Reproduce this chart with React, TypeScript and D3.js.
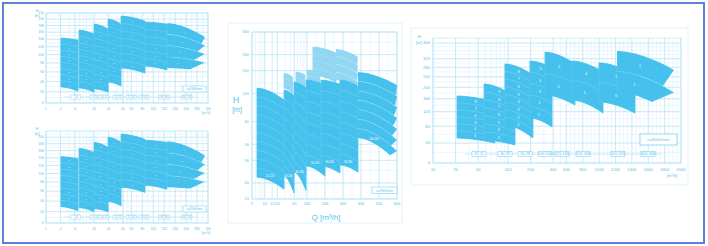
import React from "react";
import * as d3 from "d3";

const BLUE = "#46c1ee";
const PALE = "#92d6f2";
const GRID = "#d6eff9";
const GRID_STRONG = "#b4e3f6";
const INK = "#52c1ec";
const FRAME = "#dcf1fa";
const EDGE = "#5c81d7";
const FONT = "'Liberation Sans', Arial, sans-serif";

// ---------- axis ticks ----------
const compactQTicks = [1, 2, 4, 10, 20, 40, 60, 80, 100, 120, 140, 160, 180, 200];
const compactHTicks50 = [0, 20, 40, 60, 80, 100, 120, 140, 160, 180, 200, 220];
const compactHTicks60 = [0, 20, 40, 60, 80, 100, 120, 140, 160, 180, 200];
const midQTicks = [5, 10, 15, 20, 50, 100, 200, 300, 400, 500, 600];
const midHTicks = [15, 20, 30, 40, 60, 100, 150, 200, 300];
const largeQTicks = [10, 20, 40, 100, 200, 400, 600, 800, 1000, 1200, 1400, 1600, 1800, 2000];
const largeHTicks = [0, 40, 80, 120, 160, 200, 240, 280, 320, 400];

// ---------- pump regions ----------
// [qStart, qEnd, qEndLowest, hTopStart, hTopEnd, hLowStart, hLowEnd, bands, topStage]
const compactSeries = [
  [2.05, 4.64, 4.6, 143, 137.5, 29.1, 21.5, 8, 8],
  [4.87, 10, 9.8, 166, 154.3, 27.2, 19.6, 9, 9],
  [10, 19.6, 19, 184, 168.9, 25.3, 19.6, 9, 9],
  [19.6, 36.5, 35, 199.7, 184, 38.9, 31, 8, 8],
  [36.5, 84.9, 82, 209.4, 193.4, 68.4, 57.5, 7, 7],
  [84.9, 125, 122, 190.2, 184, 72.9, 64, 6, 6],
  [125, 194.5, 167, 187.1, 145.9, 68.4, 61.8, 4, 4],
];

const midSeriesPale = [
  [28.6, 45.6, 45, 142.7, 133.5, 109.5, 100, 3, 3],
  [54.9, 89.4, 88, 146.1, 138.5, 117.4, 105.8, 2, 2],
  [100, 172, 170, 151.5, 142.7, 122, 117.4, 2, 2],
  [133, 261, 255, 229, 205.8, 138.5, 122, 4, 4],
  [261, 383, 375, 221.1, 191.5, 126.5, 105.8, 4, 4],
];

const midSeriesMain = [
  [6.57, 28.6, 28, 109.5, 88.4, 22.2, 17.9, 10, 10],
  [28.6, 49.3, 48, 105.8, 95.3, 22.6, 16.7, 9, 9],
  [49.3, 94.7, 92, 122, 109.5, 24.3, 17.5, 9, 9],
  [94.7, 200, 195, 126.5, 115.6, 27.1, 22.6, 8, 8],
  [178, 283, 275, 126.5, 117.4, 27.1, 23.9, 8, 8],
  [283, 383, 375, 126.5, 113.6, 27.6, 24.3, 8, 8],
  [383, 600, 561, 146.1, 115.6, 44.7, 29.1, 7, 7],
];
const midModels = ["25-125", "32-160", "40-160", "50-200", "65-200", "80-250", "100-250"];

const largeSeries = [
  [20.9, 67, 63.1, 169.3, 149.6, 51.4, 40.2, 6, 8],
  [47.9, 124, 117, 212, 166, 46.9, 35.8, 7, 9],
  [91, 215, 207, 295, 247.6, 83, 51.4, 8, 8],
  [196, 386, 342, 309, 277, 102, 78, 5, 5],
  [311, 705, 668, 352, 295, 173, 140, 2, 4],
  [668, 1047, 970, 309, 260, 156, 116, 2, 4],
  [998, 1438, 1413, 300, 248, 150, 116, 2, 6],
  [1218, 1914, 1642, 358, 269, 183, 110.4, 2, 1],
];

const compactModels = ["2-4", "4-10", "10-15", "15-25", "25-40", "45-65", "65-90", "90-150"];
const compactModelQ = [4.2, 10.5, 16.1, 31.6, 59, 83, 119.6, 161.6];
const largeModels = ["32-11", "40-29", "50-78", "100-100", "125-160", "150-200", "200-250", "300-300"];
const largeModelQ = [41, 91.2, 169, 311, 523, 803, 1230, 1597];

type Scale = (v: number) => number;

function hybrid(a: number, b: number, c: number, r0: number, rb: number, r1: number): Scale {
  const lg = d3.scaleLog().domain([a, b]).range([r0, rb]);
  const ln = d3.scaleLinear().domain([b, c]).range([rb, r1]);
  return (v: number) => (v <= b ? lg(v) : ln(v));
}

function logGrid(a: number, b: number) {
  const out: number[] = [];
  for (let e = Math.floor(Math.log10(a)); Math.pow(10, e) <= b; e++) {
    for (let m = 1; m < 10; m++) {
      const v = m * Math.pow(10, e);
      if (v >= a - 1e-9 && v <= b + 1e-9) out.push(v);
    }
  }
  return out;
}

// Each region is split into stage bands; the lower curves stop a little short
// of the upper ones, which gives the stepped right edge of each region.
function bandsOf(row: number[], xs: Scale, ys: Scale) {
  const [q0, q1, q1b, t0, t1, b0, b1, n, top] = row;
  const X0 = xs(q0), X1 = xs(q1), XL = xs(q1b);
  const T0 = ys(t0), T1 = ys(t1), B0 = ys(b0), B1 = ys(b1);
  const shape = (s: number) => Math.pow(Math.min(1, Math.max(0, s)), 1.7);
  const topAt = (x: number) => T0 + (T1 - T0) * shape((x - X0) / (X1 - X0));
  const lowAt = (x: number) => B0 + (B1 - B0) * shape((x - X0) / (X1 - X0));
  const curve = (k: number, x: number) => topAt(x) + (lowAt(x) - topAt(x)) * (k / n);
  const line = d3.line();
  const N = 18;
  const sample = (k: number, xa: number, xb: number) => {
    const pts: [number, number][] = [];
    for (let i = 0; i <= N; i++) {
      const x = xa + ((xb - xa) * i) / N;
      pts.push([x, curve(k, x)]);
    }
    return pts;
  };
  const bands: { d: string; lx: number; ly: number; stage: number }[] = [];
  const seps: string[] = [];
  for (let k = 0; k < n; k++) {
    const xe = Math.min(X1 + (XL - X1) * ((k + 1) / n), X1 - 0.8);
    const pts = [...sample(k, X0, X1), ...sample(k + 1, X0, xe).reverse()];
    const xm = X0 + (xe - X0) * 0.5;
    bands.push({ d: line(pts) + "Z", lx: xm, ly: (curve(k, xm) + curve(k + 1, xm)) / 2, stage: Math.max(1, top - k) });
    if (k > 0) seps.push(line(sample(k, X0, X1)) as string);
  }
  const env = [...sample(0, X0, X1), ...sample(n, X0, X1).reverse()];
  return { bands, seps, envelope: line(env) + "Z", X0, top: T0, bottom: B0 };
}

type Box = { left: number; right: number; top: number; bottom: number };

function GridLines({ xs, ys, box, vMinor, vMajor, hMinor, hMajor }: any) {
  return (
    <g>
      {vMinor.map((v: number, i: number) => (
        <line key={"vm" + i} x1={xs(v)} x2={xs(v)} y1={box.top} y2={box.bottom} stroke={GRID} strokeWidth={0.5} />
      ))}
      {hMinor.map((v: number, i: number) => (
        <line key={"hm" + i} x1={box.left} x2={box.right} y1={ys(v)} y2={ys(v)} stroke={GRID} strokeWidth={0.5} />
      ))}
      {vMajor.map((v: number, i: number) => (
        <line key={"vM" + i} x1={xs(v)} x2={xs(v)} y1={box.top} y2={box.bottom} stroke={GRID_STRONG} strokeWidth={0.6} />
      ))}
      {hMajor.map((v: number, i: number) => (
        <line key={"hM" + i} x1={box.left} x2={box.right} y1={ys(v)} y2={ys(v)} stroke={GRID_STRONG} strokeWidth={0.6} />
      ))}
      <rect x={box.left} y={box.top} width={box.right - box.left} height={box.bottom - box.top} fill="none" stroke={GRID_STRONG} strokeWidth={0.6} />
    </g>
  );
}

function Regions({ rows, xs, ys, fill, fs, labels }: any) {
  return (
    <g>
      {rows.map((row: number[], ri: number) => {
        const { bands, seps, envelope, X0, top, bottom } = bandsOf(row, xs, ys);
        const last = ri === rows.length - 1;
        return (
          <g key={ri}>
            {!last && <path d={envelope} fill={fill} stroke={fill} strokeWidth={0.8} strokeLinejoin="round" />}
            {bands.map((b, bi) => (
              <path key={bi} d={b.d} fill={fill} />
            ))}
            {seps.map((d, si) => (
              <path key={"s" + si} d={d} fill="none" stroke="#ffffff" strokeOpacity={0.45} strokeWidth={0.35} />
            ))}
            {ri > 0 && <line x1={X0} x2={X0} y1={top} y2={bottom} stroke="#ffffff" strokeOpacity={0.25} strokeWidth={0.35} />}
            {fs > 0 &&
              bands.map((b, bi) => (
                <text key={"t" + bi} x={b.lx} y={b.ly + fs * 0.35} fontSize={fs} fill="#ffffff" fillOpacity={0.85} textAnchor="middle" fontFamily={FONT}>
                  {b.stage}
                </text>
              ))}
            {labels && (
              <text x={bands[bands.length - 1].lx} y={bands[bands.length - 1].ly + 1} fontSize={2.6} fill="#ffffff" textAnchor="middle" fontFamily={FONT}>
                {labels[ri]}
              </text>
            )}
          </g>
        );
      })}
    </g>
  );
}

function CompactPanel({ box, hTicks, rpm }: { box: Box; hTicks: number[]; rpm: string }) {
  const xs = hybrid(1, 60, 200, box.left, 131.4, box.right);
  const ys = d3.scaleSymlog().constant(230).domain([0, 220]).range([box.bottom, box.top]);
  const vMinor = [...logGrid(1, 60), ...d3.range(70, 201, 10)];
  const hMinor = d3.range(0, 221, 10);
  const rowY = box.bottom - 6;
  return (
    <g>
      <GridLines xs={xs} ys={ys} box={box} vMinor={vMinor} vMajor={compactQTicks} hMinor={hMinor} hMajor={hTicks} />
      <Regions rows={compactSeries} xs={xs} ys={ys} fill={BLUE} fs={2.2} />
      <line x1={xs(compactModelQ[0]) - 12} x2={xs(compactModelQ[compactModelQ.length - 1]) + 10} y1={rowY} y2={rowY} stroke={GRID_STRONG} strokeWidth={0.6} />
      {compactModels.map((m, i) => (
        <g key={m}>
          <rect x={xs(compactModelQ[i]) - 5} y={rowY - 2} width={10} height={4} fill="#ffffff" stroke={INK} strokeWidth={0.35} />
          <text x={xs(compactModelQ[i])} y={rowY + 1} fontSize={2.8} fill={INK} textAnchor="middle" fontFamily={FONT}>
            {m}
          </text>
        </g>
      ))}
      <rect x={183} y={box.bottom - 17} width={23} height={6} fill="#ffffff" stroke={INK} strokeWidth={0.4} />
      <text x={194.5} y={box.bottom - 13} fontSize={2.8} fill={INK} textAnchor="middle" fontFamily={FONT}>
        {rpm}
      </text>
      {compactQTicks.map((v) => (
        <text key={v} x={xs(v)} y={box.bottom + 6.5} fontSize={3.4} fill={INK} textAnchor="middle" fontFamily={FONT}>
          {v}
        </text>
      ))}
      {hTicks.map((v) => (
        <text key={v} x={box.left - 2} y={ys(v) + 1.2} fontSize={3.4} fill={INK} textAnchor="end" fontFamily={FONT}>
          {v}
        </text>
      ))}
      <text x={37} y={box.top - 1} fontSize={3.6} fill={INK} textAnchor="middle" fontFamily={FONT}>H</text>
      <text x={37} y={box.top + 4} fontSize={3.4} fill={INK} textAnchor="middle" fontFamily={FONT}>[m]</text>
      <text x={box.right - 2} y={box.bottom + 11} fontSize={3.2} fill={INK} textAnchor="middle" fontFamily={FONT}>[m³/h]</text>
    </g>
  );
}

function MidPanel() {
  const box = { left: 252, right: 397, top: 32, bottom: 199 };
  const xs = hybrid(5, 100, 600, box.left, 307, box.right);
  const ys = d3.scaleLog().domain([15, 300]).range([box.bottom, box.top]);
  const vMinor = [...logGrid(5, 100), ...d3.range(150, 601, 50)];
  const hMinor = [15, 20, 25, 30, 35, 40, 45, 50, 60, 70, 80, 90, 100, 120, 150, 200, 250, 300];
  return (
    <g>
      <rect x={228} y={23} width={174} height={200} fill="none" stroke={FRAME} strokeWidth={0.8} />
      <GridLines xs={xs} ys={ys} box={box} vMinor={vMinor} vMajor={midQTicks} hMinor={hMinor} hMajor={midHTicks} />
      <Regions rows={midSeriesPale} xs={xs} ys={ys} fill={PALE} fs={0} />
      <Regions rows={midSeriesMain} xs={xs} ys={ys} fill={BLUE} fs={0} labels={midModels} />
      <rect x={372} y={187} width={25} height={6.5} fill="#ffffff" stroke={INK} strokeWidth={0.45} />
      <text x={384.5} y={191.5} fontSize={3} fill={INK} textAnchor="middle" fontFamily={FONT}>n=2900r/min</text>
      {midQTicks.map((v) => (
        <text key={v} x={xs(v)} y={205} fontSize={4} fill={INK} textAnchor="middle" fontFamily={FONT}>
          {v}
        </text>
      ))}
      {midHTicks.map((v) => (
        <text key={v} x={249} y={ys(v) + 1.4} fontSize={4} fill={INK} textAnchor="end" fontFamily={FONT}>
          {v}
        </text>
      ))}
      <text x={236} y={103} fontSize={9} fill={INK} textAnchor="middle" fontFamily={FONT}>H</text>
      <text x={237} y={112} fontSize={7} fill={INK} textAnchor="middle" fontFamily={FONT}>[m]</text>
      <text x={326} y={220} fontSize={8} fill={INK} textAnchor="middle" fontFamily={FONT}>Q  [m³/h]</text>
    </g>
  );
}

function LargePanel() {
  const box = { left: 433, right: 681, top: 38, bottom: 163 };
  const xs = hybrid(10, 600, 2000, box.left, 566.4, box.right);
  const ys = d3.scaleSymlog().constant(200).domain([0, 400]).range([163, 43]);
  const vMinor = [...logGrid(10, 600), ...d3.range(650, 2001, 50)];
  const hMinor = d3.range(0, 401, 20);
  const rowY = 154;
  return (
    <g>
      <rect x={411} y={28} width={277} height={157} fill="none" stroke={FRAME} strokeWidth={0.8} />
      <GridLines xs={xs} ys={ys} box={box} vMinor={vMinor} vMajor={largeQTicks} hMinor={hMinor} hMajor={largeHTicks} />
      <Regions rows={largeSeries} xs={xs} ys={ys} fill={BLUE} fs={4.2} />
      <line x1={xs(largeModelQ[0]) - 14} x2={xs(largeModelQ[largeModelQ.length - 1]) + 14} y1={rowY} y2={rowY} stroke={GRID_STRONG} strokeWidth={0.7} />
      {largeModels.map((m, i) => (
        <g key={m}>
          <rect x={xs(largeModelQ[i]) - 7} y={rowY - 2.6} width={14} height={5.2} fill="#ffffff" stroke={INK} strokeWidth={0.45} />
          <text x={xs(largeModelQ[i])} y={rowY + 1.4} fontSize={3.8} fill={INK} textAnchor="middle" fontFamily={FONT}>
            {m}
          </text>
        </g>
      ))}
      <rect x={640} y={134} width={37} height={11} fill="#ffffff" stroke={INK} strokeWidth={0.6} />
      <text x={658.5} y={141} fontSize={4} fill={INK} textAnchor="middle" fontFamily={FONT}>n=6000r/min</text>
      {largeQTicks.map((v) => (
        <text key={v} x={xs(v)} y={170.5} fontSize={4.2} fill={INK} textAnchor="middle" fontFamily={FONT}>
          {v}
        </text>
      ))}
      {largeHTicks.map((v) => (
        <text key={v} x={430} y={ys(v) + 1.4} fontSize={4.2} fill={INK} textAnchor="end" fontFamily={FONT}>
          {v}
        </text>
      ))}
      <text x={419} y={38} fontSize={4.4} fill={INK} textAnchor="middle" fontFamily={FONT}>H</text>
      <text x={419} y={44} fontSize={4.2} fill={INK} textAnchor="middle" fontFamily={FONT}>[m]</text>
      <text x={672} y={176.5} fontSize={4} fill={INK} textAnchor="middle" fontFamily={FONT}>[m³/h]</text>
    </g>
  );
}

export default function App() {
  return (
    <svg width={708} height={246} viewBox="0 0 708 246" style={{ position: "absolute", left: 0, top: 0, background: "#ffffff" }}>
      <rect x={0} y={0} width={708} height={246} fill="#ffffff" />
      <CompactPanel box={{ left: 46, right: 208, top: 13, bottom: 103 }} hTicks={compactHTicks50} rpm="n=2900r/min" />
      <CompactPanel box={{ left: 46, right: 208, top: 131, bottom: 223 }} hTicks={compactHTicks60} rpm="n=3500r/min" />
      <MidPanel />
      <LargePanel />
      <rect x={3} y={3} width={701} height={240} fill="none" stroke={EDGE} strokeWidth={2} />
    </svg>
  );
}
